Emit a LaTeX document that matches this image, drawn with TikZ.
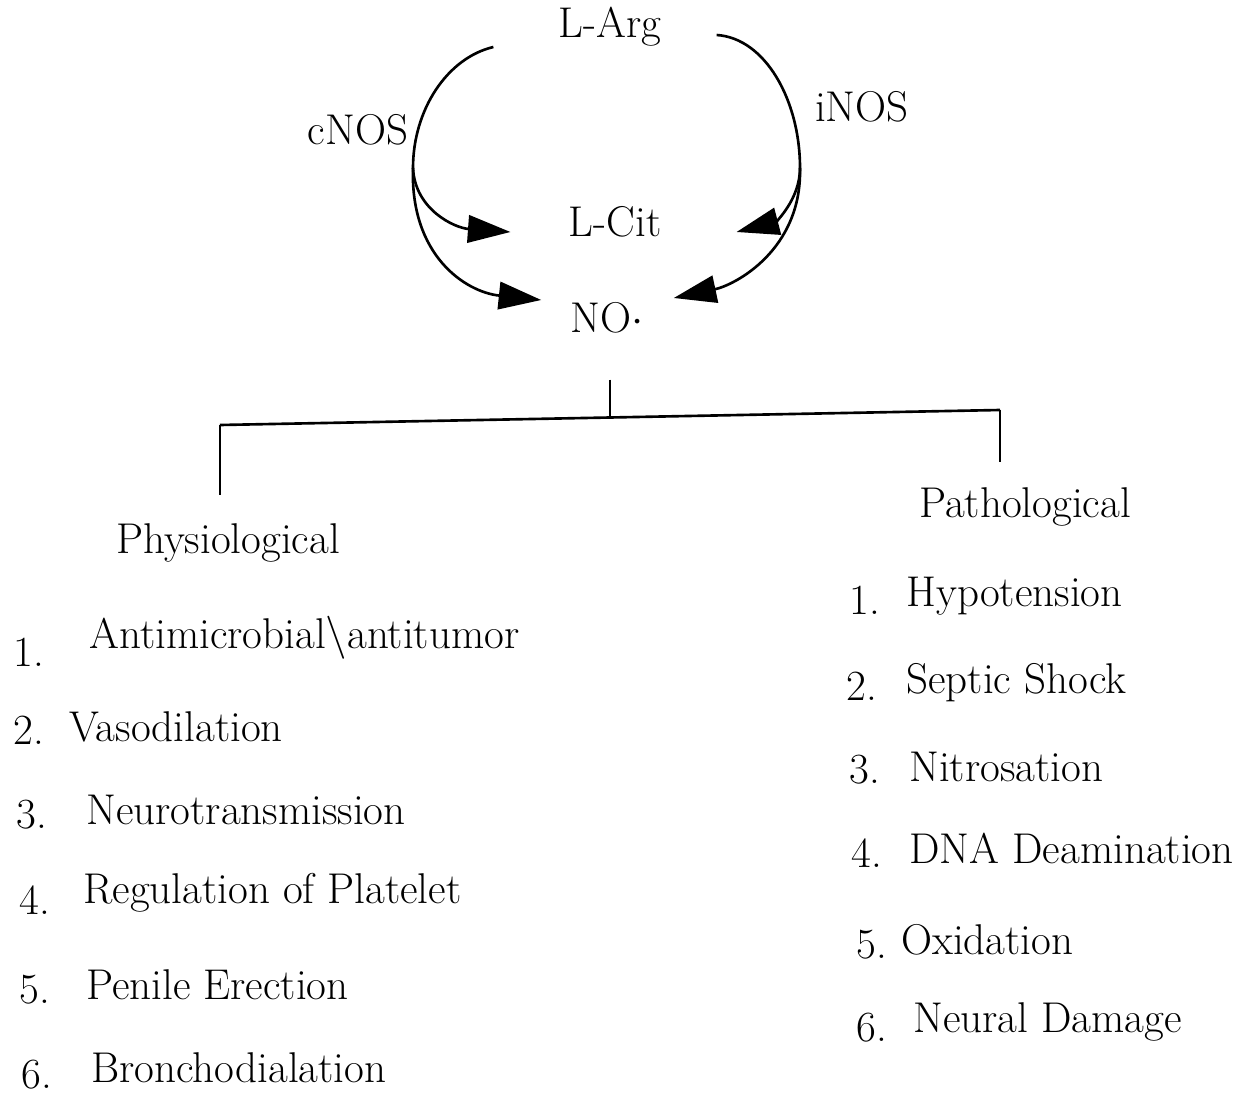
\documentclass[tikz,border=0pt]{standalone}
\usetikzlibrary{positioning, arrows.meta}

\begin{document}
\begin{tikzpicture}[
    x=0.02cm, y=-0.02cm,    % one unit = one pixel of the scan, y downwards
    line width=1.5pt,       % lines of the scan are rather heavy
    >={Triangle[length=0.85cm, width=0.55cm]},
    font=\fontsize{24.5}{29}\selectfont,
    chem/.style={inner sep=0pt},
    entry/.style={anchor=west, inner sep=0pt}
]
    \useasboundingbox (0,0) rectangle (1247,1098);

    % --- 1. substrate, enzymes and products ---
    \node [chem] (arg)  at (610,27)  {L-Arg};
    \node [chem] (cnos) at (358,130) {cNOS};
    \node [chem] (inos) at (862,107) {iNOS};
    \node [chem] (cit)  at (615,222) {L-Cit};
    \node [chem] (no)   at (607,318) {NO$\cdot$};

    % split points of the two arcs
    \coordinate (lfork) at (413,168);
    \coordinate (rfork) at (800,168);

    % --- 2. the two enzyme arcs ---
    % cNOS side
    \draw ([shift={(-64,20)}]arg.west) .. controls (447,58) and (413,110) .. (lfork);
    \draw [->] (lfork) .. controls (415,210) and (455,228) .. ([shift={(-57,10)}]cit.west);
    \draw [->] (lfork) .. controls (410,255) and (465,292) .. ([shift={(-28,-18)}]no.west);
    % iNOS side
    \draw ([shift={(54,8)}]arg.east) .. controls (765,38) and (800,100) .. (rfork);
    \draw [->] (rfork) .. controls (800,200) and (775,222) .. ([shift={(74,10)}]cit.east);
    \draw [->] (rfork) .. controls (802,250) and (735,285) .. ([shift={(29,-20)}]no.east);

    % --- 3. branching to the two groups ---
    \coordinate (stem) at (610,417);
    \coordinate (lend) at (220,425);
    \coordinate (rend) at (1000,410);
    \draw ([yshift=-0.9cm]no.south -| stem) -- (stem);
    \draw (lend) -- (rend);
    \draw (lend) -- ++(0,70);
    \draw (rend) -- ++(0,52);

    \node [chem] (phys) at (228,543)  {Physiological};
    \node [chem] (path) at (1025,507) {Pathological};

    % --- 4. physiological effects ---
    \node [entry] (p1) at (88,638)  {Antimicrobial\textbackslash antitumor};
    \node [entry] (p2) at (68,727)  {Vasodilation};
    \node [entry] (p3) at (85,810)  {Neurotransmission};
    \node [entry] (p4) at (82,893)  {Regulation of Platelet};
    \node [entry] (p5) at (85,985)  {Penile Erection};
    \node [entry] (p6) at (90,1068) {Bronchodialation};
    \node [entry] at (12,652)  {1.};
    \node [entry] at (12,730)  {2.};
    \node [entry] at (15,815)  {3.};
    \node [entry] at (18,900)  {4.};
    \node [entry] at (18,990)  {5.};
    \node [entry] at (20,1075) {6.};

    % --- 5. pathological effects ---
    \node [entry] (q1) at (905,596)  {Hypotension};
    \node [entry] (q2) at (905,683)  {Septic Shock};
    \node [entry] (q3) at (908,767)  {Nitrosation};
    \node [entry] (q4) at (908,848)  {DNA Deamination};
    \node [entry] (q5) at (900,940)  {Oxidation};
    \node [entry] (q6) at (912,1022) {Neural Damage};
    \node [entry] at (848,600)  {1.};
    \node [entry] at (845,686)  {2.};
    \node [entry] at (848,770)  {3.};
    \node [entry] at (850,853)  {4.};
    \node [entry] at (855,945)  {5.};
    \node [entry] at (855,1028) {6.};

\end{tikzpicture}
\end{document}
